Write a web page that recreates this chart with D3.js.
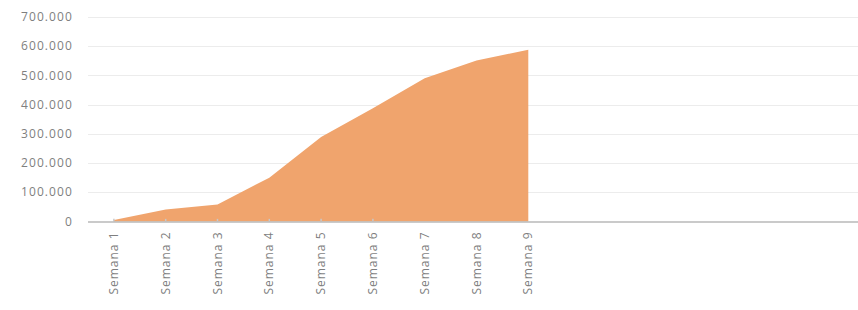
<!DOCTYPE html>
<html>
<head>
<meta charset="utf-8">
<script src="https://cdn.jsdelivr.net/npm/d3@7/dist/d3.min.js"></script>
<style>
  body { margin: 0; background: #fff; }
  text { font-family: "Open Sans", "Noto Sans", sans-serif; }
</style>
</head>
<body>
<div id="chart"></div>
<script>
// weeks, only the first 9 have labels and data
var categories = ["Semana 1", "Semana 2", "Semana 3", "Semana 4", "Semana 5", "Semana 6",
                  "Semana 7", "Semana 8", "Semana 9", "", "", "", "", "", ""];
var acumulado = [5000, 41000, 58000, 150000, 289000, 388000, 490000, 551000, 588000];
var menor = [0, 0, 0, 0, 0, 0, 0, 0, 0, 9000, 9000, 9000, 9000, 9000, 9000];
var yTicks = [0, 100000, 200000, 300000, 400000, 500000, 600000, 700000];

var width = 858, height = 310;
var margin = {top: 17, right: 0, bottom: 88, left: 88};

var svg = d3.select('#chart').append('svg')
  .attr('width', width).attr('height', height);

var x = d3.scaleBand()
  .domain(d3.range(categories.length))
  .range([margin.left, margin.left + 51.8 * categories.length]);

var y = d3.scaleLinear()
  .domain([0, 700000])
  .range([height - margin.bottom - 0.5, margin.top]);

var fmt = d3.formatLocale({decimal: ",", thousands: ".", grouping: [3], currency: ["", ""]}).format(",");

// gridlines
svg.selectAll('line.grid')
  .data(yTicks.slice(1))
  .enter().append('line')
  .attr('x1', margin.left).attr('x2', width)
  .attr('y1', function (d) { return Math.round(y(d)) + 0.5; })
  .attr('y2', function (d) { return Math.round(y(d)) + 0.5; })
  .attr('stroke', '#ececec').attr('stroke-width', 1);

// y labels
svg.selectAll('text.ylab')
  .data(yTicks)
  .enter().append('text')
  .attr('x', 73)
  .attr('y', function (d) { return y(d); })
  .attr('dy', '0.35em')
  .attr('text-anchor', 'end')
  .attr('font-size', 12)
  .attr('letter-spacing', 1.1)
  .attr('fill', '#7f7f7f')
  .text(function (d) { return fmt(d); });

function cx(i) { return x(i) + x.bandwidth() / 2; }

// area
var area = d3.area()
  .x(function (d, i) { return cx(i); })
  .y0(y(0))
  .y1(function (d) { return y(d); });

svg.append('path')
  .datum(acumulado)
  .attr('d', area)
  .attr('fill', '#f0a46d');

// tiny marks for later weeks
svg.selectAll('line.menor')
  .data(menor)
  .enter().append('line')
  .filter(function (d) { return d > 0; })
  .attr('x1', function (d, i) { return cx(i); })
  .attr('x2', function (d, i) { return cx(i); })
  .attr('y1', y(0))
  .attr('y2', function (d) { return y(d); })
  .attr('stroke', '#c8c8c8').attr('stroke-width', 1.5);

// x axis line
svg.append('line')
  .attr('x1', margin.left).attr('x2', width)
  .attr('y1', y(0) + 0.5).attr('y2', y(0) + 0.5)
  .attr('stroke', '#b8b8b8').attr('stroke-width', 1.5);

// x labels, rotated
svg.selectAll('text.xlab')
  .data(categories)
  .enter().append('text')
  .attr('transform', function (d, i) {
    return 'translate(' + (cx(i) + 4) + ',' + (y(0) + 10) + ') rotate(-90)';
  })
  .attr('text-anchor', 'end')
  .attr('font-size', 12)
  .attr('letter-spacing', 1)
  .attr('fill', '#7f7f7f')
  .text(function (d) { return d; });
</script>
</body>
</html>
